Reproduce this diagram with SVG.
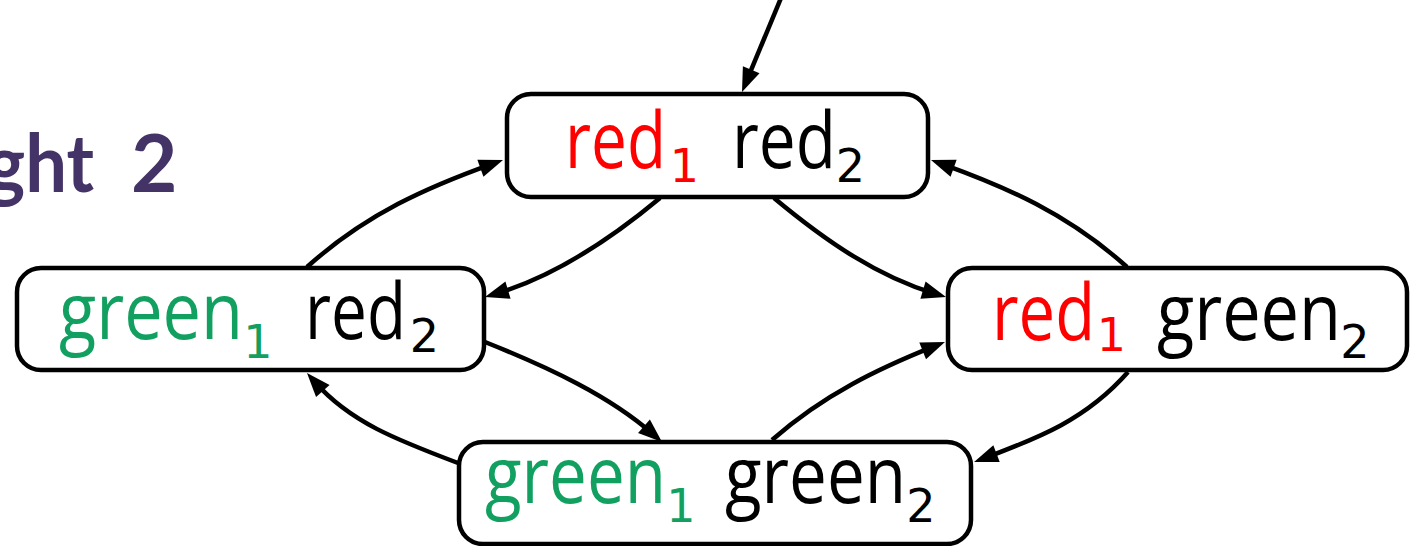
<svg xmlns="http://www.w3.org/2000/svg" width="1410" height="546" viewBox="0 0 1410 546">
  <style>
    .node { fill: #ffffff; stroke: #000000; stroke-width: 4.5; }
    .edge { fill: none; stroke: #000000; stroke-width: 4.5; }
    .word { font-family: "Open Sans", "Noto Sans", sans-serif; font-size: 78px; }
    .sub { font-family: "DejaVu Sans", sans-serif; font-size: 46px; text-anchor: middle; }
    .r { fill: #ff0000; }
    .g { fill: #12a060; }
    .k { fill: #000000; }
    .title { font-family: "Lato", "Open Sans", sans-serif; font-weight: 700; font-size: 80px; fill: #433366; }
  </style>
  <defs>
    <marker id="head" markerUnits="userSpaceOnUse" markerWidth="26" markerHeight="20" refX="12" refY="9" orient="auto" overflow="visible">
      <path d="M0,0 L24,9 L0,18 Z" fill="#000000"/>
    </marker>
  </defs>

  <rect width="1410" height="546" fill="#ffffff"/>

  <!-- partially visible heading -->
  <text class="title" y="192"><tspan x="-14" textLength="108" lengthAdjust="spacingAndGlyphs">ght</tspan> <tspan x="131">2</tspan></text>

  <!-- transitions -->
  <g id="connectors">
    <!-- initial arrow -->
    <path class="edge" d="M781,-2 L746.6,80.9" marker-end="url(#head)"/>
    <!-- green1 red2 -> red1 red2 -->
    <path class="edge" d="M307,267 C366.5,213.5 428,187 491.7,164.1" marker-end="url(#head)"/>
    <!-- red1 red2 -> green1 red2 -->
    <path class="edge" d="M660,198 C606,243 552,277 496.5,293.6" marker-end="url(#head)"/>
    <!-- red1 red2 -> red1 green2 -->
    <path class="edge" d="M774,198 C828,243 879,277 934.5,293.6" marker-end="url(#head)"/>
    <!-- red1 green2 -> red1 red2 -->
    <path class="edge" d="M1127,267 C1067.5,213.5 1006,187 942.3,164.1" marker-end="url(#head)"/>
    <!-- green1 red2 -> green1 green2 -->
    <path class="edge" d="M485,342 C550,368 609.5,396 653,434.1" marker-end="url(#head)"/>
    <!-- green1 green2 -> green1 red2 -->
    <path class="edge" d="M458,463 C397,440 350,422 314.9,382" marker-end="url(#head)"/>
    <!-- green1 green2 -> red1 green2 -->
    <path class="edge" d="M772,440 C824.5,393.8 880,368 933.8,346.4" marker-end="url(#head)"/>
    <!-- red1 green2 -> green1 green2 -->
    <path class="edge" d="M1128,372 C1085,421 1035,439 985.3,457.8" marker-end="url(#head)"/>
  </g>

  <g id="s-red-red">
    <rect class="node" x="507" y="94" width="421" height="103" rx="24"/>
    <text class="word r" x="565" y="168" textLength="101" lengthAdjust="spacingAndGlyphs">red</text>
    <text class="sub r" x="684.5" y="182">1</text>
    <text class="word k" x="732" y="168" textLength="104" lengthAdjust="spacingAndGlyphs">red</text>
    <text class="sub k" x="850.5" y="182">2</text>
  </g>

  <g id="s-green-red">
    <rect class="node" x="17" y="268" width="467" height="102" rx="24"/>
    <text class="word g" x="59" y="339" textLength="184" lengthAdjust="spacingAndGlyphs">green</text>
    <text class="sub g" x="258" y="358">1</text>
    <text class="word k" x="305" y="339" textLength="101" lengthAdjust="spacingAndGlyphs">red</text>
    <text class="sub k" x="424.5" y="352">2</text>
  </g>

  <g id="s-red-green">
    <rect class="node" x="948" y="268" width="459" height="102" rx="24"/>
    <text class="word r" x="992" y="340" textLength="103" lengthAdjust="spacingAndGlyphs">red</text>
    <text class="sub r" x="1111.5" y="351">1</text>
    <text class="word k" x="1157" y="340" textLength="184" lengthAdjust="spacingAndGlyphs">green</text>
    <text class="sub k" x="1355" y="358">2</text>
  </g>

  <g id="s-green-green">
    <rect class="node" x="459" y="442" width="512" height="102" rx="24"/>
    <text class="word g" x="485" y="503" textLength="181" lengthAdjust="spacingAndGlyphs">green</text>
    <text class="sub g" x="681" y="522">1</text>
    <text class="word k" x="725" y="503" textLength="181" lengthAdjust="spacingAndGlyphs">green</text>
    <text class="sub k" x="921" y="522">2</text>
  </g>
</svg>
